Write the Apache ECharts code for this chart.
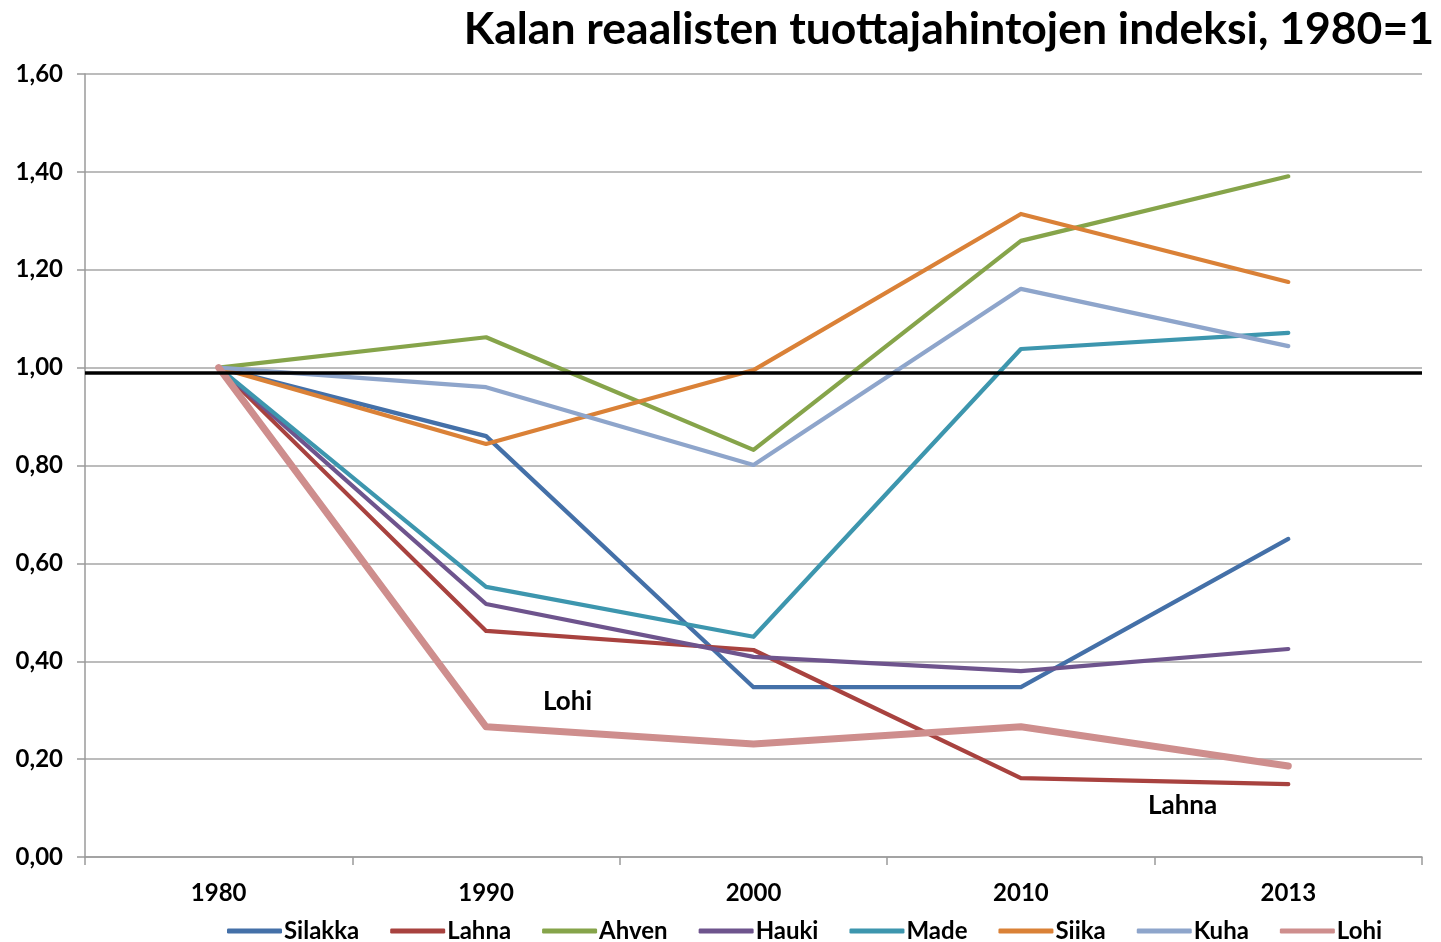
<!DOCTYPE html>
<html>
<head>
<meta charset="utf-8">
<script src="https://cdn.jsdelivr.net/npm/echarts@6/dist/echarts.min.js"></script>
<style>
  html, body { margin: 0; padding: 0; background: #fff; }
  #chart { width: 1441px; height: 942px; }
</style>
</head>
<body>
<div id="chart"></div>
<script>
// Kalan reaaliset tuottajahinnat, indeksi 1980 = 1
const years = ['1980', '1990', '2000', '2010', '2013'];

const silakka = [1.00, 0.86, 0.347, 0.347, 0.65];
const lahna   = [1.00, 0.462, 0.423, 0.161, 0.149];
const ahven   = [1.00, 1.062, 0.832, 1.259, 1.391];
const hauki   = [1.00, 0.517, 0.409, 0.380, 0.425];
const made    = [1.00, 0.552, 0.450, 1.038, 1.071];
const siika   = [1.00, 0.844, 0.995, 1.314, 1.175];
const kuha    = [1.00, 0.960, 0.801, 1.161, 1.044];
const lohi    = [1.00, 0.266, 0.231, 0.266, 0.186];

const referenceLevel = 0.99;

const FONT = 'Lato, "Open Sans", sans-serif';

function line(name, data, color, width) {
  return {
    name: name,
    type: 'line',
    data: data,
    symbol: 'none',
    showSymbol: false,
    lineStyle: { color: color, width: width, cap: 'round', join: 'round' },
    itemStyle: { color: color },
    z: 3
  };
}

const series = [
  line('Silakka', silakka, '#4470A8', 4.2),
  line('Lahna', lahna, '#A8423F', 4.2),
  line('Ahven', ahven, '#86A44A', 4.2),
  line('Hauki', hauki, '#6E548D', 4.2),
  line('Made', made, '#3D96AE', 4.2),
  line('Siika', siika, '#DA8137', 4.2),
  line('Kuha', kuha, '#8EA5CB', 4.2),
  line('Lohi', lohi, '#CE8E8D', 7)
];

// black reference line just below 1,00
series[0].markLine = {
  silent: true,
  symbol: 'none',
  label: { show: false },
  lineStyle: { color: '#000', width: 3.5, type: 'solid' },
  data: [{ yAxis: referenceLevel }],
  z: 5
};

const chart = echarts.init(document.getElementById('chart'), null, { renderer: 'canvas' });

chart.setOption({
  animation: false,
  backgroundColor: '#ffffff',
  title: {
    text: 'Kalan reaalisten tuottajahintojen indeksi, 1980=1',
    right: 2,
    top: 2,
    textStyle: { fontFamily: FONT, fontWeight: 'bold', fontSize: 44.5, color: '#000' }
  },
  legend: {
    top: 914,
    left: 222,
    icon: 'roundRect',
    itemWidth: 55,
    itemHeight: 5,
    itemGap: 31,
    textStyle: { fontFamily: FONT, fontWeight: 'bold', fontSize: 24, color: '#000', padding: [0, 0, 0, -3] },
    data: ['Silakka', 'Lahna', 'Ahven', 'Hauki', 'Made', 'Siika', 'Kuha', 'Lohi']
  },
  grid: { left: 85, right: 19, top: 74, bottom: 85, containLabel: false },
  xAxis: {
    type: 'category',
    data: years,
    boundaryGap: true,
    axisLine: { lineStyle: { color: '#9a9a9a', width: 1.5 } },
    axisTick: { show: true, length: 8, inside: false, alignWithLabel: false, lineStyle: { color: '#9a9a9a', width: 1.5 } },
    axisLabel: { margin: 24, fontFamily: FONT, fontWeight: 'bold', fontSize: 24, color: '#000' },
    splitLine: { show: false }
  },
  yAxis: {
    type: 'value',
    min: 0,
    max: 1.6,
    interval: 0.2,
    axisLine: { show: true, lineStyle: { color: '#9a9a9a', width: 1.5 } },
    axisTick: { show: true, length: 8, lineStyle: { color: '#9a9a9a', width: 1.5 } },
    axisLabel: {
      margin: 22,
      fontFamily: FONT,
      fontWeight: 'bold',
      fontSize: 24,
      color: '#000',
      formatter: v => v.toFixed(2).replace('.', ',')
    },
    splitLine: { show: true, lineStyle: { color: '#a6a6a6', width: 1.5 } }
  },
  graphic: [
    { type: 'text', left: 543, top: 689, style: { text: 'Lohi', font: 'bold 26px ' + FONT, fill: '#000' } },
    { type: 'text', left: 1148, top: 793, style: { text: 'Lahna', font: 'bold 26px ' + FONT, fill: '#000' } }
  ],
  series: series
});
</script>
</body>
</html>
